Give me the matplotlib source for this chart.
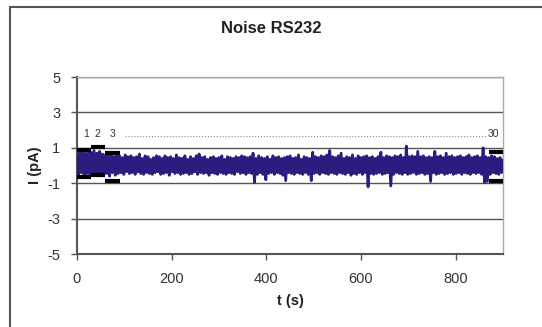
import matplotlib.pyplot as plt
import matplotlib.patches as patches
import numpy as np

plt.rcParams['font.family'] = ['Liberation Sans', 'DejaVu Sans']
plt.rcParams['axes.unicode_minus'] = False

# noise trace, one value every 3 s
t_step = 3
noise = [
    0.6, -0.5, 0.75, -0.4, 0.8, -0.55, 0.7, -0.45, 0.8, -0.5,
    0.75, -0.5, 0.85, -0.45, 0.7, -0.55, 0.8, -0.4, 0.65, -0.5,
    0.6, -0.45, 0.55, -0.6, 0.65, -0.4, 0.5, -0.55, 0.6, -0.45,
    0.55, -0.4, 0.45, -0.5, 0.6, -0.35, 0.5, -0.45, 0.55, -0.4,
    0.45, -0.5, 0.5, -0.35, 0.65, -0.45, 0.4, -0.5, 0.55, -0.4,
    0.5, -0.45, 0.35, -0.5, 0.45, -0.4, 0.55, -0.35, 0.5, -0.5,
    0.4, -0.45, 0.55, -0.4, 0.45, -0.55, 0.5, -0.35, 0.4, -0.45,
    0.6, -0.4, 0.45, -0.5, 0.4, -0.45, 0.55, -0.4, 0.35, -0.5,
    0.5, -0.45, 0.4, -0.35, 0.55, -0.5, 0.65, -0.4, 0.45, -0.45,
    0.5, -0.4, 0.35, -0.55, 0.45, -0.4, 0.5, -0.45, 0.4, -0.5,
    0.45, -0.4, 0.55, -0.45, 0.35, -0.5, 0.5, -0.4, 0.45, -0.45,
    0.4, -0.5, 0.5, -0.35, 0.45, -0.45, 0.55, -0.4, 0.5, -0.5,
    0.45, -0.4, 0.5, -0.45, 0.7, -0.95, 0.4, -0.5, 0.55, -0.4,
    0.45, -0.5, 0.4, -0.8, 0.5, -0.45, 0.35, -0.4, 0.55, -0.5,
    0.45, -0.4, 0.5, -0.45, 0.4, -0.55, 0.45, -0.85, 0.5, -0.4,
    0.55, -0.45, 0.4, -0.5, 0.45, -0.4, 0.6, -0.45, 0.35, -0.5,
    0.5, -0.4, 0.45, -0.5, 0.4, -0.85, 0.75, -0.45, 0.5, -0.4,
    0.45, -0.5, 0.55, -0.4, 0.5, -0.45, 0.6, -0.5, 0.85, -0.4,
    0.5, -0.45, 0.45, -0.5, 0.55, -0.4, 0.7, -0.45, 0.4, -0.5,
    0.5, -0.4, 0.45, -0.55, 0.6, -0.45, 0.4, -0.5, 0.55, -0.4,
    0.45, -0.5, 0.5, -0.4, 0.55, -1.2, 0.45, -0.45, 0.5, -0.5,
    0.4, -0.45, 0.5, -0.4, 0.75, -0.5, 0.45, -0.45, 0.55, -0.4,
    0.5, -1.15, 0.45, -0.5, 0.55, -0.4, 0.5, -0.45, 0.6, -0.5,
    0.45, -0.4, 1.1, -0.5, 0.5, -0.45, 0.55, -0.4, 0.5, -0.5,
    0.8, -0.45, 0.5, -0.4, 0.55, -0.5, 0.45, -0.45, 0.5, -0.9,
    0.45, -0.4, 0.8, -0.5, 0.5, -0.45, 0.55, -0.4, 0.45, -0.5,
    0.7, -0.45, 0.5, -0.4, 0.55, -0.5, 0.45, -0.45, 0.5, -0.4,
    0.55, -0.5, 0.45, -0.4, 0.5, -0.45, 0.6, -0.5, 0.45, -0.4,
    0.5, -0.45, 0.55, -0.4, 0.45, -0.5, 1.0, -0.95, 0.5, -0.9,
    0.45, -0.5, 0.55, -0.4, 0.5, -0.45, 0.4, -0.5, 0.45, -0.4,
    0.3,
]
t = np.arange(len(noise)) * t_step

# window limits (black bars): start, end, upper, lower
win_labels = ['1', '2', '3', '30']
win_start = [0, 30, 60, 870]
win_end = [30, 60, 90, 900]
win_upper = [0.87, 1.05, 0.73, 0.74]
win_lower = [-0.63, -0.55, -0.86, -0.87]
label_x = [19, 43, 75, 880]

fig = plt.figure(figsize=(5.42, 3.27), dpi=100)
ax = fig.add_axes([0.142, 0.223, 0.786, 0.5415])

ax.plot(t, noise, color='#2b1d80', lw=2.0, zorder=3)

for s, e, u, l in zip(win_start, win_end, win_upper, win_lower):
    ax.plot([s, e], [u, u], color='black', lw=3, solid_capstyle='butt', zorder=4)
    ax.plot([s, e], [l, l], color='black', lw=3, solid_capstyle='butt', zorder=4)

for lab, x in zip(win_labels, label_x):
    ax.text(x, 1.8, lab, fontsize=7.5, color='#333333', ha='center', va='center')
ax.plot([101, 866], [1.68, 1.68], color='#888888', lw=0.8, ls=':', zorder=2)

ax.set_xlim(0, 900)
ax.set_ylim(-5, 5)
ax.set_xticks([0, 200, 400, 600, 800])
ax.set_yticks([5, 3, 1, -1, -3, -5])
ax.yaxis.grid(True, color='#555555', lw=1)
ax.set_axisbelow(True)

for side in ['top', 'right']:
    ax.spines[side].set_color('#aaaaaa')
    ax.spines[side].set_linewidth(1)
for side in ['left', 'bottom']:
    ax.spines[side].set_color('#555555')
    ax.spines[side].set_linewidth(1.5)
ax.tick_params(direction='out', length=4, width=1, color='#555555',
               labelsize=10.5, labelcolor='#333333')
ax.tick_params(axis='x', pad=9)
ax.tick_params(axis='y', pad=8)

ax.set_xlabel('t (s)', fontsize=10.5, fontweight='bold', color='#222222', labelpad=6)
ax.set_ylabel('I (pA)', fontsize=10.5, fontweight='bold', color='#222222', labelpad=4)
fig.text(0.5, 0.914, 'Noise RS232', fontsize=12, fontweight='bold',
         color='#222222', ha='center', va='center')

# outer chart border (left and top visible)
fig.patches.append(patches.Rectangle((10 / 542, -0.1), 1.2, 1.1 - 7 / 327,
                                     transform=fig.transFigure, fill=False,
                                     edgecolor='#555555', lw=1.5))

fig.savefig('out.png', dpi=100)
